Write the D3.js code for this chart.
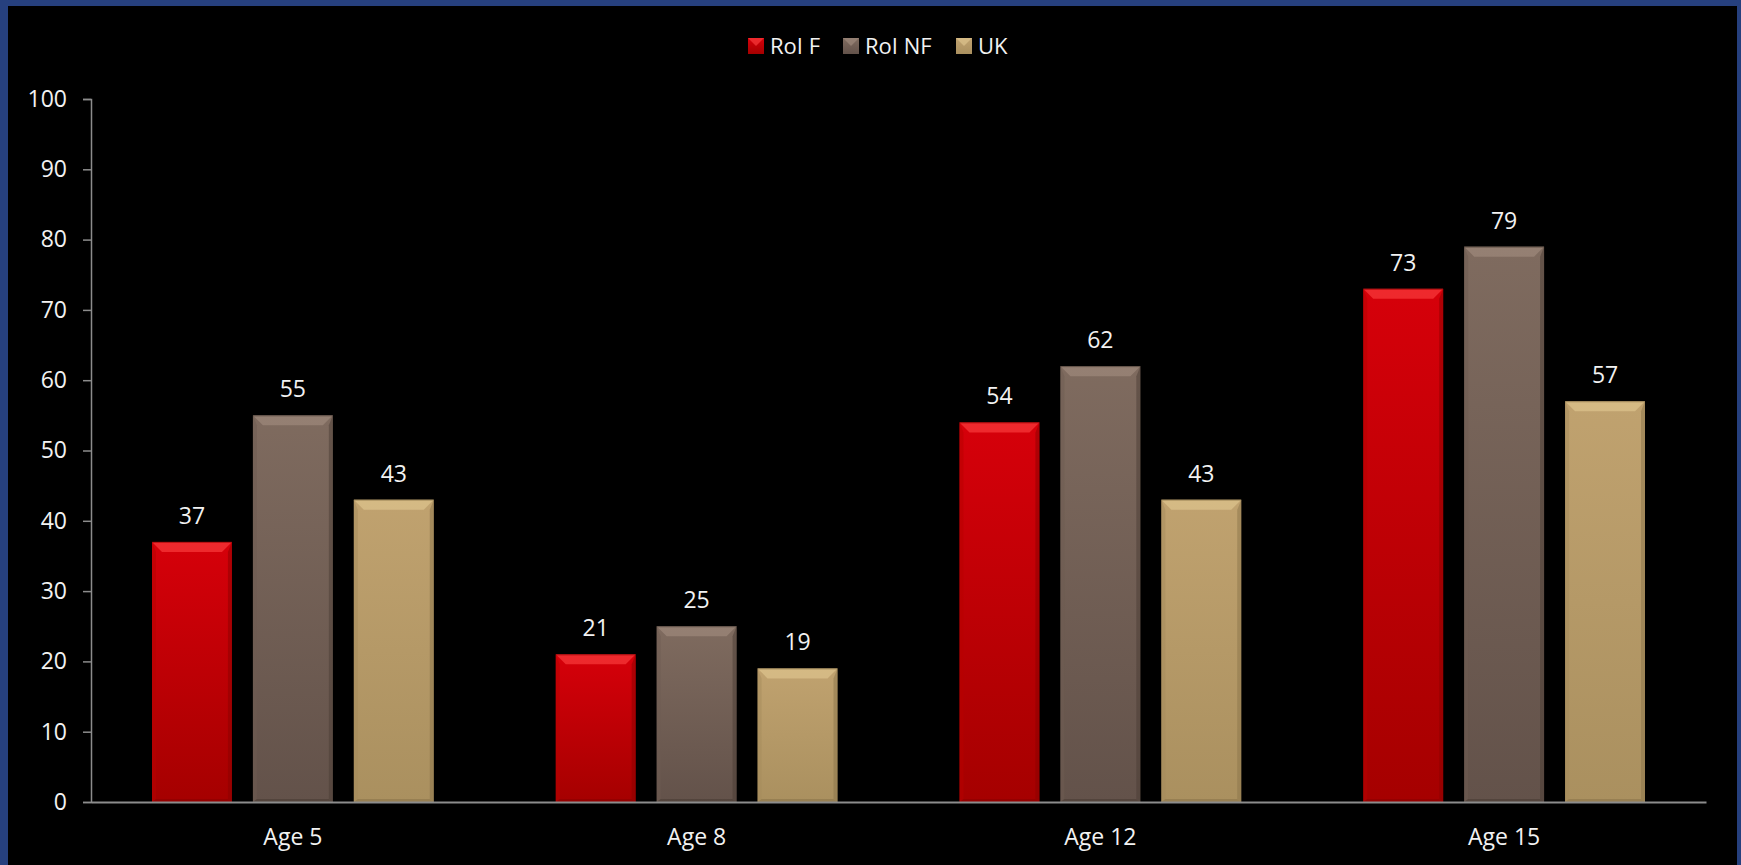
<!DOCTYPE html>
<html>
<head>
<meta charset="utf-8">
<script src="https://cdnjs.cloudflare.com/ajax/libs/d3/7.8.5/d3.min.js"></script>
<style>
  html, body { margin: 0; padding: 0; background: #26407e; }
  svg { display: block; }
  text { font-family: "Open Sans", Lato, sans-serif; fill: #f2f2f2; }
</style>
</head>
<body>
<svg id="chart" width="1741" height="865"></svg>
<script>
const categories = ["Age 5", "Age 8", "Age 12", "Age 15"];
const seriesNames = ["RoI F", "RoI NF", "UK"];
const roiF  = [37, 21, 54, 73];
const roiNF = [55, 25, 62, 79];
const uk    = [43, 19, 43, 57];
const yTicks = [0, 10, 20, 30, 40, 50, 60, 70, 80, 90, 100];

const seriesValues = [roiF, roiNF, uk];
const palette = [
  { top: "#d6000a", bottom: "#a50000", bevel: "#ff4545", side: "#b80000", edge: "#8a0000" },
  { top: "#7f6b5f", bottom: "#63524a", bevel: "#a38e81", side: "#6e5c51", edge: "#4a3c34" },
  { top: "#c0a26f", bottom: "#aa905f", bevel: "#e2ca92", side: "#a68c5c", edge: "#8a7449" }
];
const FONT = "'Open Sans', Lato, sans-serif";

const svg = d3.select("#chart");
const W = 1741, H = 865;

svg.append("rect").attr("x", 0).attr("y", 0).attr("width", W).attr("height", H).attr("fill", "#26407e");
svg.append("rect").attr("x", 8).attr("y", 6).attr("width", W - 12).attr("height", H - 6).attr("fill", "#000");

const defs = svg.append("defs");
palette.forEach((p, i) => {
  const g = defs.append("linearGradient").attr("id", "grad" + i)
    .attr("x1", 0).attr("y1", 0).attr("x2", 0).attr("y2", 1);
  g.append("stop").attr("offset", "0%").attr("stop-color", p.top);
  g.append("stop").attr("offset", "100%").attr("stop-color", p.bottom);
});

const plot = { left: 91, right: 1706, top: 99, bottom: 802 };

const x0 = d3.scaleBand().domain(categories).range([plot.left, plot.right]).paddingInner(0).paddingOuter(0);
const groupPad = 61;
const x1 = d3.scaleBand().domain(seriesNames)
  .range([groupPad, x0.bandwidth() - groupPad]).paddingInner(0.208).paddingOuter(0);
const y = d3.scaleLinear().domain([0, 100]).range([plot.bottom, plot.top]);

const yAxis = svg.append("g").attr("transform", `translate(${plot.left},0)`)
  .call(d3.axisLeft(y).tickValues(yTicks).tickSize(8).tickPadding(16).tickFormat(d3.format("d")));
yAxis.select(".domain").attr("stroke", "#8c8c8c").attr("stroke-width", 1.5);
yAxis.selectAll(".tick line").attr("stroke", "#8c8c8c").attr("stroke-width", 1.5);
yAxis.selectAll(".tick text").attr("font-size", 23).attr("fill", "#f2f2f2")
  .style("font-family", FONT);

const groups = svg.append("g").selectAll("g").data(categories).join("g")
  .attr("transform", d => `translate(${x0(d)},0)`);

const bw = x1.bandwidth();
const bev = 10, sideW = 4;
categories.forEach((cat, ci) => {
  const g = groups.filter(d => d === cat);
  seriesNames.forEach((s, si) => {
    const v = seriesValues[si][ci];
    const bx = x1(s), by = y(v), bh = y(0) - y(v);
    const p = palette[si];
    g.append("rect").attr("x", bx).attr("y", by).attr("width", bw).attr("height", bh)
      .attr("fill", `url(#grad${si})`);
    g.append("path").attr("d", `M${bx},${by} L${bx + sideW},${by + bev} L${bx + sideW},${by + bh - 3} L${bx},${by + bh} Z`)
      .attr("fill", p.side).attr("opacity", 0.5);
    g.append("path").attr("d", `M${bx + bw},${by} L${bx + bw - sideW},${by + bev} L${bx + bw - sideW},${by + bh - 3} L${bx + bw},${by + bh} Z`)
      .attr("fill", p.edge).attr("opacity", 0.5);
    g.append("path").attr("d", `M${bx},${by + bh} L${bx + sideW},${by + bh - 3} L${bx + bw - sideW},${by + bh - 3} L${bx + bw},${by + bh} Z`)
      .attr("fill", p.edge).attr("opacity", 0.6);
    g.append("path").attr("d", `M${bx},${by} L${bx + bw},${by} L${bx + bw - bev},${by + bev} L${bx + bev},${by + bev} Z`)
      .attr("fill", p.bevel).attr("opacity", 0.6);
    g.append("line").attr("x1", bx).attr("x2", bx + bw).attr("y1", by + 0.5).attr("y2", by + 0.5)
      .attr("stroke", p.edge).attr("stroke-width", 1).attr("opacity", 0.6);
    g.append("text").attr("x", bx + bw / 2).attr("y", by - 18)
      .attr("text-anchor", "middle").attr("font-size", 23).text(v);
  });
});

const xAxis = svg.append("g").attr("transform", `translate(0,${plot.bottom})`)
  .call(d3.axisBottom(x0).tickSize(0).tickPadding(27));
xAxis.select(".domain").attr("stroke", "#8c8c8c").attr("stroke-width", 2);
xAxis.selectAll(".tick text").attr("font-size", 23).attr("fill", "#f2f2f2")
  .style("font-family", FONT);

const legendItems = [
  { name: seriesNames[0], x: 748 },
  { name: seriesNames[1], x: 843 },
  { name: seriesNames[2], x: 956 }
];
const lg = svg.append("g");
legendItems.forEach((it, i) => {
  const p = palette[i];
  const sx = it.x, sy = 38, ss = 16;
  lg.append("rect").attr("x", sx).attr("y", sy).attr("width", ss).attr("height", ss).attr("fill", `url(#grad${i})`);
  lg.append("path").attr("d", `M${sx},${sy} L${sx + ss},${sy} L${sx + ss / 2},${sy + ss / 2} Z`)
    .attr("fill", p.bevel).attr("opacity", 0.6);
  lg.append("text").attr("x", sx + ss + 6).attr("y", sy + ss / 2).attr("dy", "0.35em")
    .attr("font-size", 22).text(it.name);
});
</script>
</body>
</html>
